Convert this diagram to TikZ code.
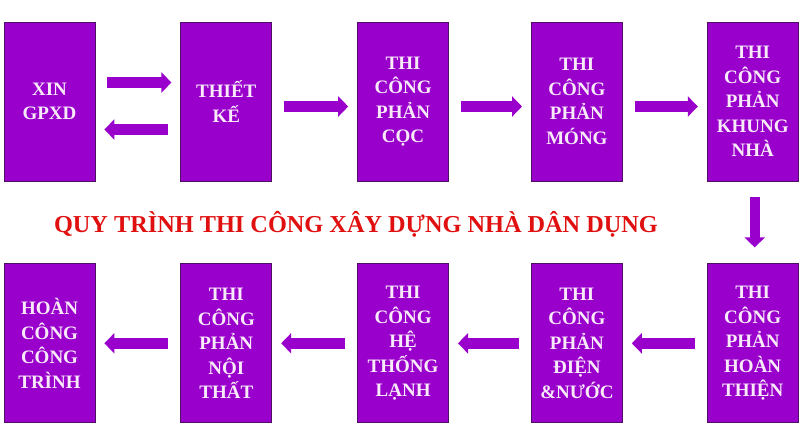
\documentclass[tikz,border=0pt]{standalone}
\usepackage{fontspec}
\setmainfont{Liberation Serif}
\usetikzlibrary{positioning,arrows.meta}
\definecolor{tim}{HTML}{9900CC}
\definecolor{vien}{HTML}{4E1060}
\definecolor{chu}{HTML}{F8EAF8}
\definecolor{do}{HTML}{E01010}

\begin{document}
\begin{tikzpicture}[x=1pt,y=-1pt]
      \tikzset{
        node distance=85pt,
        box/.style={rectangle,draw=vien,fill=tim,text=chu,line width=0.8pt,minimum width=91pt,minimum height=159pt,inner sep=0pt,align=center,font=\bfseries\fontsize{19}{24.5}\selectfont},
        flow/.style={draw=tim,line width=11pt,-{Triangle[width=20pt,length=10pt]},shorten <=12pt,shorten >=9pt}
      }
      \useasboundingbox (0,0) rectangle (800,445);

      \node[box] (s1) at (49.5,101.5) {XIN\\GPXD};
      \node[box, right=of s1] (s2) {THIẾT\\KẾ};
      \node[box, right=of s2] (s3) {THI\\CÔNG\\PHẢN\\CỌC};
      \node[box, right=82pt of s3] (s4) {THI\\CÔNG\\PHẢN\\MÓNG};
      \node[box, right=84pt of s4] (s5) {THI\\CÔNG\\PHẢN\\KHUNG\\NHÀ};
      \node[box, below=82pt of s5] (s6) {THI\\CÔNG\\PHẢN\\HOÀN\\THIỆN};
      \node[box, left=84pt of s6] (s7) {THI\\CÔNG\\PHẢN\\ĐIỆN\\\&NƯỚC};
      \node[box, left=82pt of s7] (s8) {THI\\CÔNG\\HỆ\\THỐNG\\LẠNH};
      \node[box, left=of s8] (s9) {THI\\CÔNG\\PHẢN\\NỘI\\THẤT};
      \node[box, left=of s9] (s10) {HOÀN\\CÔNG\\CÔNG\\TRÌNH};

      \node[text=do, anchor=base, font=\bfseries\fontsize{24.3}{24.3}\selectfont] (title) at (356,232) {QUY TRÌNH THI CÔNG XÂY DỰNG NHÀ DÂN DỤNG};

      \draw[flow] ([yshift=19pt]s1.east) -- ([yshift=19pt]s2.west);
      \draw[flow] ([yshift=-28pt]s2.west) -- ([yshift=-28pt]s1.east);
      \draw[flow] ([yshift=-5pt]s2.east) -- ([yshift=-5pt]s3.west);
      \draw[flow] ([yshift=-5pt]s3.east) -- ([yshift=-5pt]s4.west);
      \draw[flow] ([yshift=-5pt]s4.east) -- ([yshift=-5pt]s5.west);
      \draw[flow, line width=10pt, shorten <=16pt, shorten >=16pt] ([xshift=2pt]s5.south) -- ([xshift=2pt]s6.north);
      \draw[flow] (s6) -- (s7);
      \draw[flow] (s7) -- (s8);
      \draw[flow] (s8) -- (s9);
      \draw[flow] (s9) -- (s10);
\end{tikzpicture}
\end{document}
